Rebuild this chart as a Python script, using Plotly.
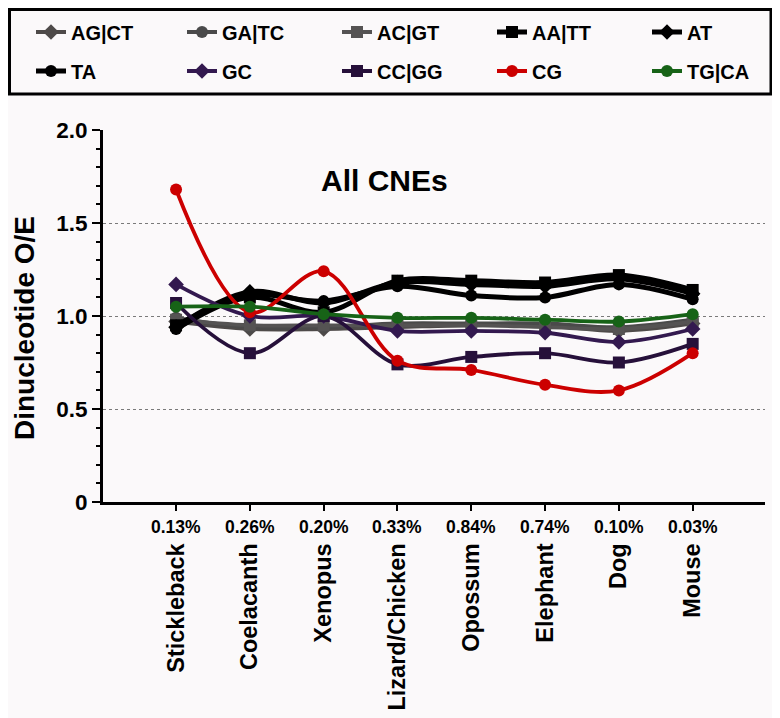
import plotly.graph_objects as go

species = ["Stickleback", "Coelacanth", "Xenopus", "Lizard/Chicken", "Opossum", "Elephant", "Dog", "Mouse"]
percent = ["0.13%", "0.26%", "0.20%", "0.33%", "0.84%", "0.74%", "0.10%", "0.03%"]

AG_CT = [0.97, 0.93, 0.93, 0.94, 0.95, 0.95, 0.92, 0.96]
GA_TC = [0.99, 0.94, 0.94, 0.96, 0.96, 0.96, 0.94, 0.98]
AC_GT = [0.98, 0.95, 0.95, 0.95, 0.95, 0.94, 0.93, 0.97]
AA_TT = [0.95, 1.10, 1.02, 1.19, 1.19, 1.18, 1.22, 1.14]
AT = [0.94, 1.13, 1.07, 1.18, 1.17, 1.16, 1.20, 1.12]
TA = [0.93, 1.11, 1.08, 1.16, 1.11, 1.10, 1.17, 1.09]
GC = [1.17, 1.00, 1.00, 0.92, 0.92, 0.91, 0.86, 0.93]
CC_GG = [1.07, 0.80, 1.00, 0.74, 0.78, 0.80, 0.75, 0.85]
CG = [1.68, 1.02, 1.24, 0.76, 0.71, 0.63, 0.60, 0.80]
TG_CA = [1.05, 1.05, 1.01, 0.99, 0.99, 0.98, 0.97, 1.01]

series = [
    ("AG|CT", AG_CT, "#4e4a49", "diamond"),
    ("GA|TC", GA_TC, "#4a4a4a", "circle"),
    ("AC|GT", AC_GT, "#555353", "square"),
    ("AA|TT", AA_TT, "#000000", "square"),
    ("AT", AT, "#000000", "diamond"),
    ("TA", TA, "#000000", "circle"),
    ("GC", GC, "#33194f", "diamond"),
    ("CC|GG", CC_GG, "#26103a", "square"),
    ("CG", CG, "#cc0000", "circle"),
    ("TG|CA", TG_CA, "#176317", "circle"),
]

FONT = "Liberation Sans, Arial, sans-serif"
BG = "#fbf9fa"
W, H = 772, 710  # page body adds an 8px offset

fig = go.Figure()
legends = {}
col_left = [23, 174, 329, 484, 639]
row_y = [24, 63]
for k, (name, vals, col, sym) in enumerate(series):
    lw = 5 if col == "#000000" else 3.8
    lname = "legend" if k == 0 else f"legend{k + 1}"
    fig.add_trace(go.Scatter(
        x=list(range(len(species))), y=vals, name=name, mode="lines+markers",
        line=dict(color=col, width=lw, shape="spline", smoothing=1),
        marker=dict(color=col, symbol=sym, size=12),
        legend=lname, showlegend=True,
    ))
    legends[lname] = dict(
        orientation="h", xref="container", yref="container",
        x=col_left[k % 5] / W, y=1 - row_y[k // 5] / H,
        xanchor="left", yanchor="middle",
        font=dict(family=FONT, size=20, color="black", weight="bold"),
        bgcolor="rgba(0,0,0,0)", borderwidth=0,
        itemclick=False, itemdoubleclick=False,
    )

fig.update_layout(
    width=W, height=H, showlegend=True,
    margin=dict(l=95, r=15, t=122, b=216, autoexpand=False),
    paper_bgcolor=BG, plot_bgcolor=BG,
    font=dict(family=FONT, color="black"),
    **legends,
)

fig.update_xaxes(
    range=[-0.99, 7.98], tickmode="array", tickvals=list(range(len(species))), ticktext=species,
    tickangle=-90, ticklabelstandoff=23,
    tickfont=dict(family=FONT, size=23.5, color="black", weight="bold"),
    showline=True, linecolor="black", linewidth=3, ticks="outside", ticklen=6, tickwidth=2,
    tickcolor="black", showgrid=False, zeroline=False,
)
fig.update_yaxes(
    range=[0, 2], tickmode="array", tickvals=[0, 0.5, 1.0, 1.5, 2.0],
    ticktext=["0", "0.5", "1.0", "1.5", "2.0"],
    tickfont=dict(family=FONT, size=22.5, color="black", weight="bold"),
    showline=True, linecolor="black", linewidth=3, ticks="outside", ticklen=8, tickwidth=2,
    tickcolor="black",
    minor=dict(dtick=0.1, ticks="outside", ticklen=4, tickwidth=1.5, tickcolor="black", showgrid=False),
    showgrid=True, gridcolor="#7a7a7a", griddash="dot", gridwidth=1, zeroline=False,
)

PW, PH = 662, 372
for i, p in enumerate(percent):
    fig.add_annotation(x=i, y=-25 / PH, xref="x", yref="paper", text=p, showarrow=False,
                       xanchor="center", yanchor="middle",
                       font=dict(family=FONT, size=17.5, color="black", weight="bold"))

fig.add_annotation(x=(16 - 95) / PW, y=(494 - 320) / PH, xref="paper", yref="paper",
                   text="Dinucleotide O/E", textangle=-90, showarrow=False,
                   xanchor="center", yanchor="middle",
                   font=dict(family=FONT, size=28, color="black", weight="bold"))

fig.add_annotation(x=(376 - 95) / PW, y=(494 - 172) / PH, xref="paper", yref="paper",
                   text="All CNEs", showarrow=False, xanchor="center", yanchor="middle",
                   font=dict(family=FONT, size=30, color="black", weight="bold"))

# legend frame
fig.add_shape(type="rect", xref="paper", yref="paper",
              x0=(1.5 - 95) / PW, x1=(763 - 95) / PW,
              y0=(494 - 86) / PH, y1=(494 - 1.5) / PH,
              line=dict(color="black", width=3), fillcolor="rgba(0,0,0,0)")

fig.write_html("out.html")
